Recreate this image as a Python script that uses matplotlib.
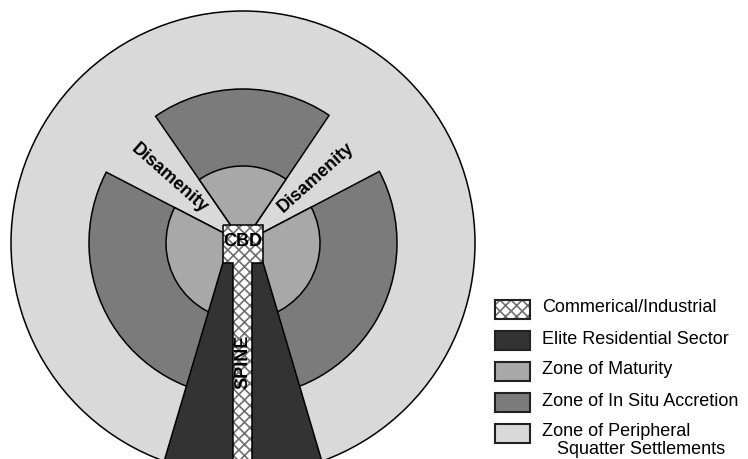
"""Griffin-Ford style model of a Latin American city - zones, sectors and spine."""

import numpy as np
import matplotlib.pyplot as plt
from matplotlib.patches import Circle, Wedge, Polygon, Rectangle

plt.rcParams["font.family"] = ["Liberation Sans", "DejaVu Sans"]
plt.rcParams["hatch.linewidth"] = 1.2

# zone colours
outer_color = "#d9d9d9"
accretion_color = "#7b7b7b"
maturity_color = "#a8a8a8"
elite_color = "#333333"
hatch_color = "#707070"

# rings (radius, diagram units = pixels)
outer_r = 232
accretion_r = 154
maturity_r = 77

# sectors that hold the accretion + maturity rings (degrees, ccw from east)
sector_starts = [56.0, 152.6, -90.0]
sector_ends = [124.6, 270.0, 27.7]

# disamenity labels sit on the bisector of the gaps
disamenity_angles = [138.6, 41.9]
disamenity_r = 98

# elite residential sector opens downward from a point above the centre
elite_half_angle = 16.5

legend_labels = ["Commerical/Industrial", "Elite Residential Sector",
                 "Zone of Maturity", "Zone of In Situ Accretion",
                 "Zone of Peripheral"]
legend_colors = ["white", elite_color, maturity_color, accretion_color, outer_color]
legend_hatches = ["xxx", None, None, None, None]


def plot_city():
    fig = plt.figure(figsize=(7.48, 4.59), dpi=100)
    ax = fig.add_axes([0, 0, 1, 1])
    ax.set_xlim(0, 748)
    ax.set_ylim(0, 459)
    ax.axis("off")

    cx, cy = 243, 216
    lw = 1.1

    ax.add_patch(Circle((cx, cy), outer_r, fc=outer_color, ec="black", lw=lw))
    for a0, a1 in zip(sector_starts, sector_ends):
        ax.add_patch(Wedge((cx, cy), accretion_r, a0, a1, fc=accretion_color, ec="black", lw=lw))
        ax.add_patch(Wedge((cx, cy), maturity_r, a0, a1, fc=maturity_color, ec="black", lw=lw))

    # elite sector, kept below the top of the CBD block
    elite = Wedge((cx, cy + 48), 330, 270 - elite_half_angle, 270 + elite_half_angle,
                  fc=elite_color, ec="black", lw=lw)
    ax.add_patch(elite)
    clip = Rectangle((0, -50), 748, 50 + 230, transform=ax.transData)
    elite.set_clip_path(clip)

    # CBD + spine (T shape, hatched)
    t_shape = [(223, 234), (263, 234), (263, 196), (252.5, 196), (252.5, -10),
               (233, -10), (233, 196), (223, 196)]
    ax.add_patch(Polygon(t_shape, closed=True, fc="white", ec=hatch_color, lw=0, hatch="xxx"))
    ax.add_patch(Polygon(t_shape, closed=True, fill=False, ec="black", lw=lw))

    ax.text(243, 217, "CBD", ha="center", va="center", fontsize=13, fontweight="bold")
    ax.text(243, 97, "SPINE", ha="center", va="center", rotation=90,
            fontsize=13, fontweight="bold")

    for ang in disamenity_angles:
        x = cx + disamenity_r * np.cos(np.radians(ang))
        y = cy + disamenity_r * np.sin(np.radians(ang))
        rot = ang - 180 if ang > 90 else ang
        ax.text(x, y, "Disamenity", ha="center", va="center", rotation=rot,
                rotation_mode="anchor", fontsize=13, fontweight="bold")

    # legend
    legend_y = [150, 119, 88, 57, 26]
    for lab, col, h, y in zip(legend_labels, legend_colors, legend_hatches, legend_y):
        if h:
            ax.add_patch(Rectangle((495, y - 9.5), 35, 19, fc=col, ec=hatch_color, lw=0, hatch=h))
            ax.add_patch(Rectangle((495, y - 9.5), 35, 19, fill=False, ec="#222222", lw=1.5))
        else:
            ax.add_patch(Rectangle((495, y - 9.5), 35, 19, fc=col, ec="#222222", lw=1.5))
        ax.text(542, y + 1, lab, ha="left", va="center", fontsize=13)
    ax.text(557, legend_y[-1] - 16, "Squatter Settlements", ha="left", va="center", fontsize=13)

    fig.savefig("out.png", dpi=100)
    plt.close(fig)


plot_city()
